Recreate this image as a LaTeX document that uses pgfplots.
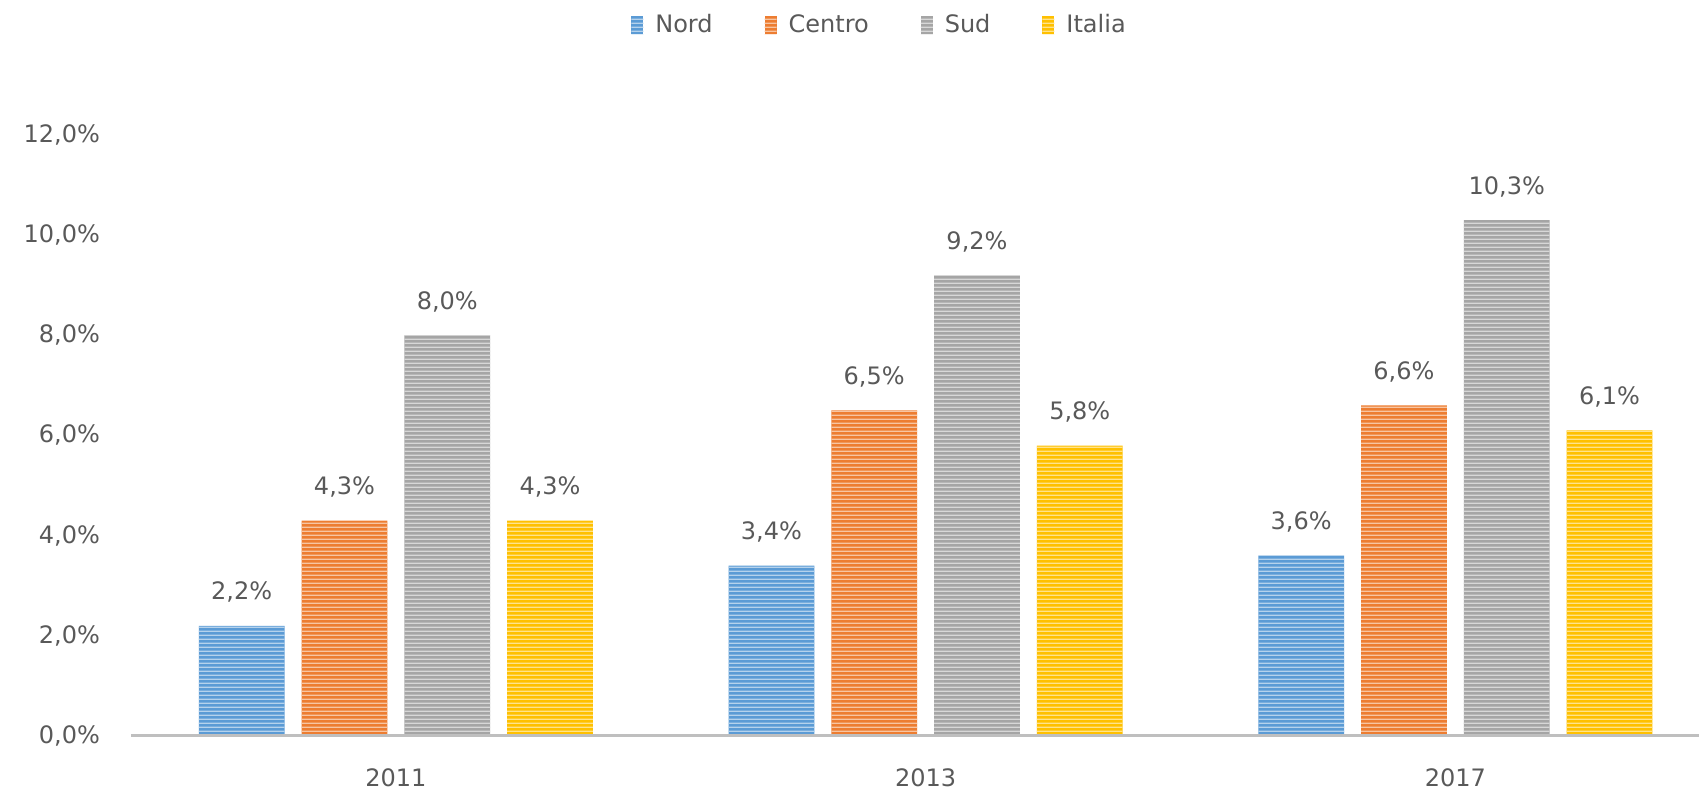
\documentclass[border=0pt]{standalone}
\usepackage{pgfplots}
\pgfplotsset{compat=1.18}
\usepackage{fontspec}
\setmainfont{DejaVu Sans}
\usetikzlibrary{patterns}
\definecolor{cnord}{HTML}{5B9BD5}
\definecolor{ccentro}{HTML}{ED7D31}
\definecolor{csud}{HTML}{A5A5A5}
\definecolor{citalia}{HTML}{FFC000}
\definecolor{txt}{HTML}{595959}
\definecolor{axl}{HTML}{BFBFBF}
\pgfdeclarepatternformonly{hstripes}{\pgfpointorigin}{\pgfpoint{2pt}{2pt}}{\pgfpoint{2pt}{2pt}}{%
  \pgfpathrectangle{\pgfpoint{-0.5pt}{0pt}}{\pgfpoint{3pt}{0.8pt}}\pgfusepath{fill}}
\pgfplotsset{
  mybar/.style={ybar, bar shift=0pt, bar width=0.162, draw=none, fill=#1,
    postaction={pattern=hstripes, pattern color=white!55!#1}},
}
\begin{document}
\begin{tikzpicture}
\useasboundingbox (-65.5pt,-30pt) rectangle (784pt,368pt);
\begin{axis}[
  at={(0pt,0pt)}, anchor=south west,
  scale only axis, width=784pt, height=300.5pt,
  xmin=-0.5, xmax=2.46, ymin=0, ymax=12,
  axis line style={draw=none},
  major tick length=0pt,
  xtick={0,1,2}, xticklabels={2011,2013,2017},
  ytick={0,2,4,6,8,10,12},
  yticklabel={\pgfmathprintnumber[fixed,fixed zerofill,precision=1,use comma]{\tick}\%},
  /pgf/number format/assume math mode=true,
  tick label style={font=\fontsize{12}{14}\selectfont, text=txt},
  yticklabel style={xshift=-12pt},
  xticklabel style={yshift=-13pt},
  nodes near coords={\pgfmathprintnumber[fixed,fixed zerofill,precision=1,use comma]{\pgfplotspointmeta}\%},
  every node near coord/.append style={font=\fontsize{12}{14}\selectfont, text=txt, anchor=base, yshift=13pt},
  legend style={at={(0.478,1.183)}, anchor=center, legend columns=4, draw=none,
    font=\fontsize{12}{14}\selectfont, text=txt,
    /tikz/every odd column/.append style={column sep=4pt},
    /tikz/every even column/.append style={column sep=24pt}},
  legend image code/.code={\path[#1] (0pt,-4.5pt) rectangle (6pt,4.5pt);},
  clip=false,
]
\addplot[mybar=cnord] coordinates {(-0.291,2.2) (0.709,3.4) (1.709,3.6)};
\addplot[mybar=ccentro] coordinates {(-0.097,4.3) (0.903,6.5) (1.903,6.6)};
\addplot[mybar=csud] coordinates {(0.097,8.0) (1.097,9.2) (2.097,10.3)};
\addplot[mybar=citalia] coordinates {(0.291,4.3) (1.291,5.8) (2.291,6.1)};
\legend{Nord,Centro,Sud,Italia}
\draw[axl, line width=1.5pt] (rel axis cs:0,0) -- (rel axis cs:1,0);
\end{axis}
\end{tikzpicture}
\end{document}
